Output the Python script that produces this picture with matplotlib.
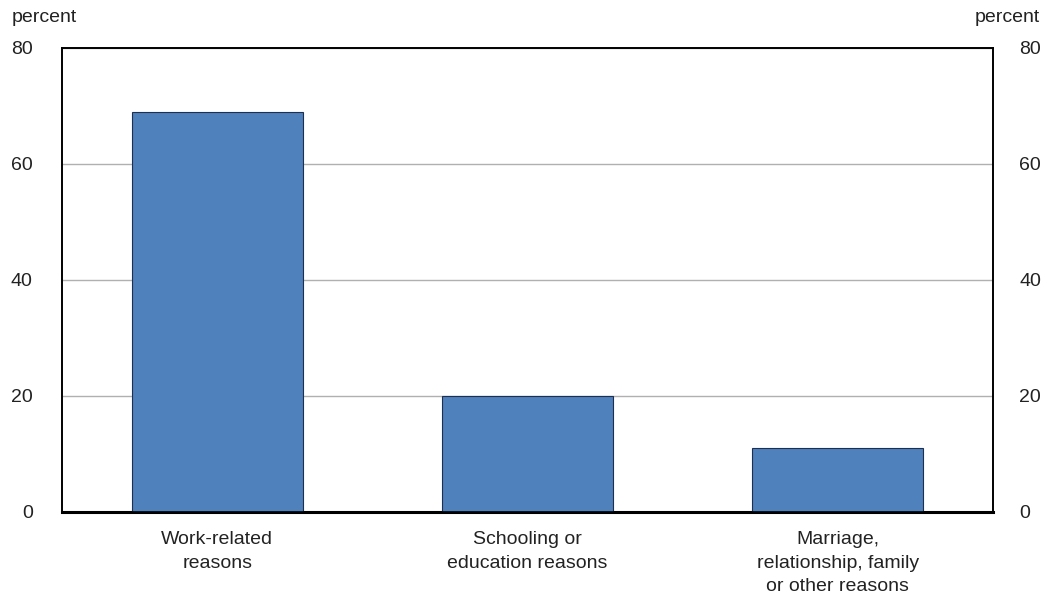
import matplotlib
matplotlib.use("Agg")
import matplotlib.pyplot as plt

plt.rcParams['font.family'] = ['Liberation Sans', 'DejaVu Sans']

categories = ["Work-related\nreasons", "Schooling or\neducation reasons",
              "Marriage,\nrelationship, family\nor other reasons"]
values = [69, 20, 11]
yticks = [0, 20, 40, 60, 80]

fig = plt.figure(figsize=(10.54, 6.02), dpi=100)
ax = fig.add_axes([62/1054, 90/602, 931/1054, 464/602])

x = range(len(categories))
ax.bar(x, values, width=0.55, color="#4f81bd", edgecolor="#1f2f4f", linewidth=0.8, zorder=3)

ax.set_xlim(-0.5, 2.5)
ax.set_ylim(0, 80)
ax.set_yticks(yticks)
ax.yaxis.grid(True, color="#b0b0b0", linewidth=1, zorder=0)
ax.set_xticks(list(x))
ax.set_xticklabels(categories, fontsize=14, color="#222222", linespacing=1.5)
ax.tick_params(axis="x", length=0, pad=14)
ax.tick_params(axis="y", length=0, labelsize=14, pad=21, labelcolor="#222222")

ax2 = ax.twinx()
ax2.set_ylim(0, 80)
ax2.set_yticks(yticks)
ax2.tick_params(axis="y", length=0, labelsize=14, pad=19, labelcolor="#222222")

for a in (ax, ax2):
    for s in a.spines.values():
        s.set_linewidth(1.2)
        s.set_color("black")
ax.spines["bottom"].set_linewidth(2.2)

fig.text(12/1054, 1 - 18/602, "percent", fontsize=14, color="#222222", va="center", ha="left")
fig.text(1040/1054, 1 - 18/602, "percent", fontsize=14, color="#222222", va="center", ha="right")

fig.savefig("out.png", dpi=100)
